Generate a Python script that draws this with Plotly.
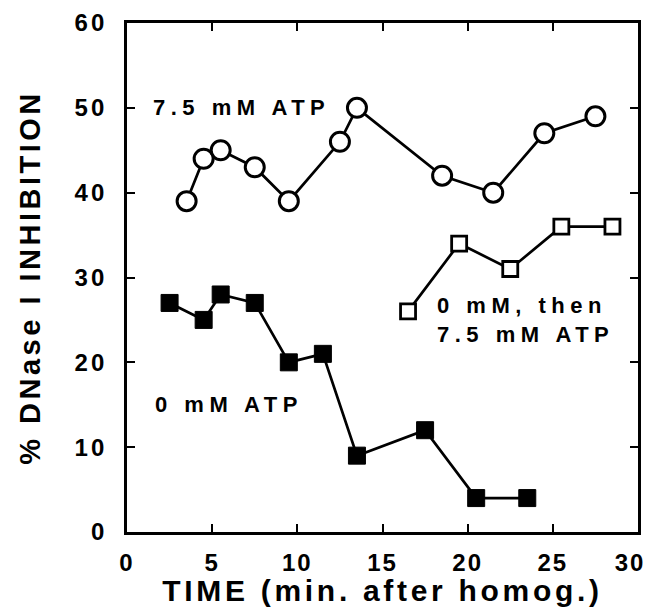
import plotly.graph_objects as go

# Data
atp_x = [3.5, 4.5, 5.5, 7.5, 9.5, 12.5, 13.5, 18.5, 21.5, 24.5, 27.5]
atp_y = [39, 44, 45, 43, 39, 46, 50, 42, 40, 47, 49]

zero_x = [2.5, 4.5, 5.5, 7.5, 9.5, 11.5, 13.5, 17.5, 20.5, 23.5]
zero_y = [27, 25, 28, 27, 20, 21, 9, 12, 4, 4]

then_x = [16.5, 19.5, 22.5, 25.5, 28.5]
then_y = [26, 34, 31, 36, 36]

x_ticks = [0, 5, 10, 15, 20, 25, 30]
y_ticks = [0, 10, 20, 30, 40, 50, 60]

FONT = "Liberation Sans"


def sp(text, ls):
    return f'<span style="letter-spacing:{ls}px">{text}</span>'


def xtick_label(v):
    s = str(v)
    if v == x_ticks[-1]:
        # keep the last label inside the page, as in the reference
        return sp(s[:-1], 2) + sp(s[-1], 18)
    return sp(s, 2)


fig = go.Figure()

fig.add_trace(go.Scatter(
    x=zero_x, y=zero_y, mode="lines+markers",
    line=dict(color="black", width=2.7),
    marker=dict(symbol="square", size=17, color="black",
                line=dict(color="black", width=1)),
    showlegend=False))

fig.add_trace(go.Scatter(
    x=then_x, y=then_y, mode="lines+markers",
    line=dict(color="black", width=2.7),
    marker=dict(symbol="square", size=15, color="white",
                line=dict(color="black", width=2.8)),
    showlegend=False))

fig.add_trace(go.Scatter(
    x=atp_x, y=atp_y, mode="lines+markers",
    line=dict(color="black", width=2.7),
    marker=dict(symbol="circle", size=19, color="white",
                line=dict(color="black", width=3)),
    showlegend=False))

ann_font = dict(family=FONT, size=22, color="black", weight="bold")
fig.add_annotation(x=1.4, y=50, xref="x", yref="y", xanchor="left", yanchor="middle",
                   text=sp("7.5 mM ATP", 5.5), showarrow=False, font=ann_font)
fig.add_annotation(x=1.5, y=15, xref="x", yref="y", xanchor="left", yanchor="middle",
                   text=sp("0 mM ATP", 5.5), showarrow=False, font=ann_font)
fig.add_annotation(x=18.1, y=25, xref="x", yref="y", xanchor="left", yanchor="middle",
                   align="left",
                   text=sp("0 mM, then", 5.5) + "<br>" + sp("7.5 mM ATP", 5.5),
                   showarrow=False, font=ann_font)

axis_common = dict(
    showline=True, linecolor="black", linewidth=2.8, mirror="ticks",
    ticks="inside", ticklen=8, tickwidth=2.4, tickcolor="black",
    showgrid=False, zeroline=False,
    tickfont=dict(family=FONT, size=24, color="black", weight="bold"),
    ticklabeloverflow="allow",
)

fig.update_xaxes(
    range=[0, 30], tickvals=x_ticks,
    ticktext=[xtick_label(v) for v in x_ticks],
    title=dict(text=sp("TIME (min. after homog.)", 3.7),
               font=dict(family=FONT, size=30, color="black", weight="bold"),
               standoff=13),
    ticklabelstandoff=7,
    **axis_common)

fig.update_yaxes(
    range=[0, 60], tickvals=y_ticks,
    ticktext=[sp(str(v), 3) for v in y_ticks],
    title=dict(text=sp("% DNase I INHIBITION", 3.5),
               font=dict(family=FONT, size=29, color="black", weight="bold"),
               standoff=26),
    ticklabelstandoff=12,
    **axis_common)

fig.update_layout(
    width=646, height=599,
    margin=dict(l=119, r=16, t=15, b=75, autoexpand=False),
    paper_bgcolor="white", plot_bgcolor="white",
)

fig.write_html("out.html")
